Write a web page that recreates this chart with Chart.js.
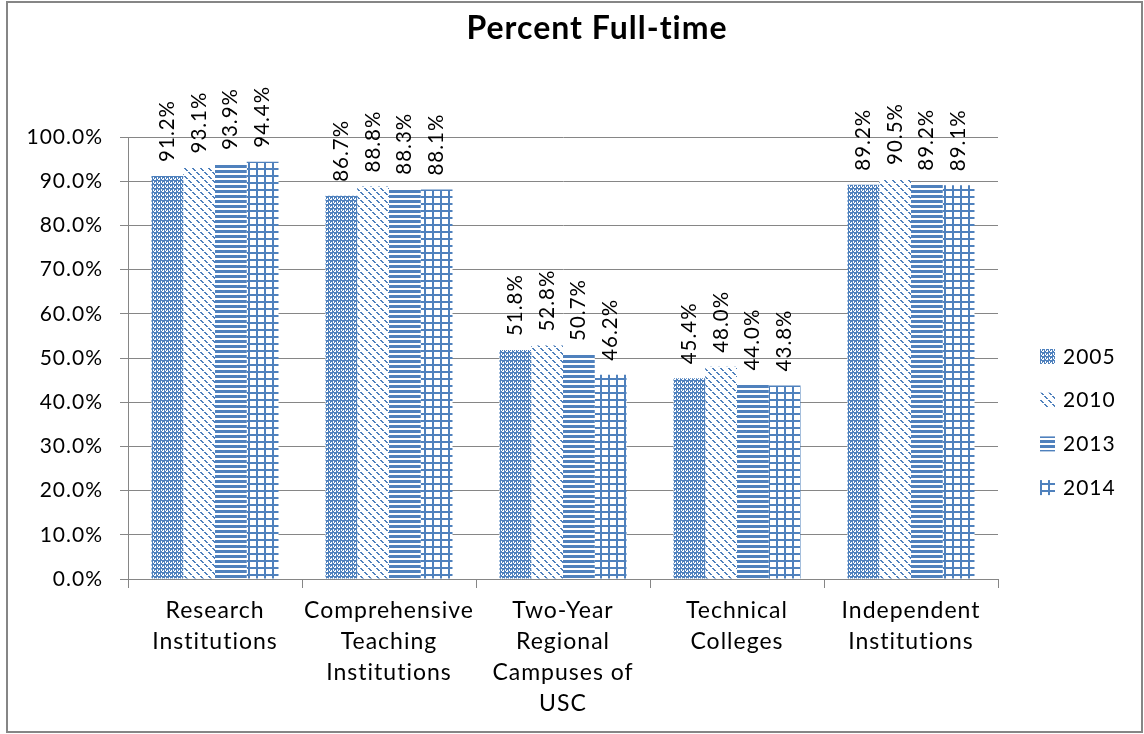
<!DOCTYPE html>
<html>
<head>
<meta charset="utf-8">
<script src="https://cdn.jsdelivr.net/npm/chart.js@4/dist/chart.umd.min.js"></script>
<style>
  body { margin: 0; background: #fff; }
  canvas { display: block; }
</style>
</head>
<body>
<canvas id="chart" width="1144" height="734"></canvas>
<script>
// Percent Full-time, by institution type
const categories = [
  ["Research", "Institutions"],
  ["Comprehensive", "Teaching", "Institutions"],
  ["Two-Year", "Regional", "Campuses of", "USC"],
  ["Technical", "Colleges"],
  ["Independent", "Institutions"],
];
const years = ["2005", "2010", "2013", "2014"];
const pct2005 = [91.2, 86.7, 51.8, 45.4, 89.2];
const pct2010 = [93.1, 88.8, 52.8, 48.0, 90.5];
const pct2013 = [93.9, 88.3, 50.7, 44.0, 89.2];
const pct2014 = [94.4, 88.1, 46.2, 43.8, 89.1];
const yTicks = [0, 10, 20, 30, 40, 50, 60, 70, 80, 90, 100];

const BLUE = "#4F81BD";
const GRID = "#868686";
const FONT = "Lato";
const SPACING = "1px";

function makePattern(w, h, draw) {
  const c = document.createElement("canvas");
  c.width = w;
  c.height = h;
  const g = c.getContext("2d");
  g.fillStyle = "#fff";
  g.fillRect(0, 0, w, h);
  g.fillStyle = BLUE;
  draw(g);
  return g.createPattern(c, "repeat");
}

// 2005: small checker with a dotted grid
const pat2005 = makePattern(4, 4, (g) => {
  g.fillRect(0, 0, 4, 1);
  g.fillRect(0, 0, 1, 4);
  g.fillRect(2, 2, 1, 1);
  g.fillRect(1, 3, 1, 1);
  g.fillRect(3, 1, 1, 1);
  g.fillRect(2, 1, 1, 1);
});

// 2010: dashed downward diagonal
const pat2010 = makePattern(8, 8, (g) => {
  for (let i = 0; i < 8; i++) {
    if (i % 4 === 3) continue;
    g.fillRect(i, i, 1, 1);
    g.fillRect((i + 1) % 8, i, 1, 1);
  }
});

// 2013: wide horizontal stripes
const pat2013 = makePattern(4, 5, (g) => {
  g.fillRect(0, 0, 4, 3);
});

// 2014: grid
const pat2014 = makePattern(8, 7, (g) => {
  g.fillRect(0, 0, 2, 7);
  g.fillRect(0, 0, 8, 2);
});

const patterns = [pat2005, pat2010, pat2013, pat2014];
const series = [pct2005, pct2010, pct2013, pct2014];

const frame = {
  id: "frame",
  beforeUpdate(chart) {
    chart.ctx.letterSpacing = SPACING;
  },
  beforeDraw(chart) {
    const c = chart.ctx;
    c.letterSpacing = SPACING;
    c.save();
    c.fillStyle = "#fff";
    c.fillRect(0, 0, chart.width, chart.height);
    c.strokeStyle = GRID;
    c.lineWidth = 2;
    c.strokeRect(7, 2, 1135, 730);
    c.fillStyle = "#000";
    c.font = "bold 32px " + FONT;
    c.letterSpacing = "1px";
    c.textAlign = "center";
    c.textBaseline = "middle";
    c.fillText("Percent Full-time", 597, 29);
    c.restore();
  },
};

const valueLabels = {
  id: "valueLabels",
  afterDatasetsDraw(chart) {
    const c = chart.ctx;
    c.save();
    c.fillStyle = "#000";
    c.font = "20.5px " + FONT;
    c.textAlign = "left";
    c.textBaseline = "middle";
    chart.data.datasets.forEach((ds, i) => {
      chart.getDatasetMeta(i).data.forEach((bar, j) => {
        c.save();
        c.translate(bar.x, bar.y - 14);
        c.rotate(-Math.PI / 2);
        c.fillText(ds.data[j].toFixed(1) + "%", 0, 0);
        c.restore();
      });
    });
    c.restore();
  },
};

const sideLegend = {
  id: "sideLegend",
  afterDraw(chart) {
    const c = chart.ctx;
    const x = chart.chartArea.right + 42;
    c.save();
    c.font = "21px " + FONT;
    c.textBaseline = "middle";
    c.textAlign = "left";
    chart.data.datasets.forEach((ds, i) => {
      const y = 356 + i * 43.7;
      c.fillStyle = ds.backgroundColor;
      c.fillRect(x, y - 7, 15, 15);
      c.fillStyle = "#000";
      c.fillText(ds.label, x + 23, y + 1);
    });
    c.restore();
  },
};

new Chart(document.getElementById("chart"), {
  type: "bar",
  data: {
    labels: categories,
    datasets: years.map((y, i) => ({
      label: y,
      data: series[i],
      backgroundColor: patterns[i],
      borderWidth: 0,
      categoryPercentage: 0.73,
      barPercentage: 1,
    })),
  },
  options: {
    responsive: false,
    devicePixelRatio: 1,
    animation: false,
    layout: { padding: { left: 6, top: 137, right: 146, bottom: 0 } },
    plugins: {
      legend: { display: false },
      title: { display: false },
      tooltip: { enabled: false },
    },
    scales: {
      x: {
        afterFit(scale) { scale.height = 155; },
        grid: { offset: true, drawOnChartArea: false, color: GRID, tickLength: 9 },
        border: { color: GRID, width: 1 },
        ticks: {
          color: "#000",
          font: { family: FONT, size: 23, lineHeight: 1.35 },
          padding: 7,
          maxRotation: 0,
          autoSkip: false,
        },
      },
      y: {
        min: 0,
        max: 100,
        afterFit(scale) { scale.width = 122; },
        afterBuildTicks(scale) { scale.ticks = yTicks.map((v) => ({ value: v })); },
        grid: { color: GRID, tickLength: 8 },
        border: { color: GRID, width: 1 },
        ticks: {
          color: "#000",
          font: { family: FONT, size: 21 },
          padding: 17,
          callback: (v) => v.toFixed(1) + "%",
        },
      },
    },
  },
  plugins: [frame, valueLabels, sideLegend],
});
</script>
</body>
</html>
